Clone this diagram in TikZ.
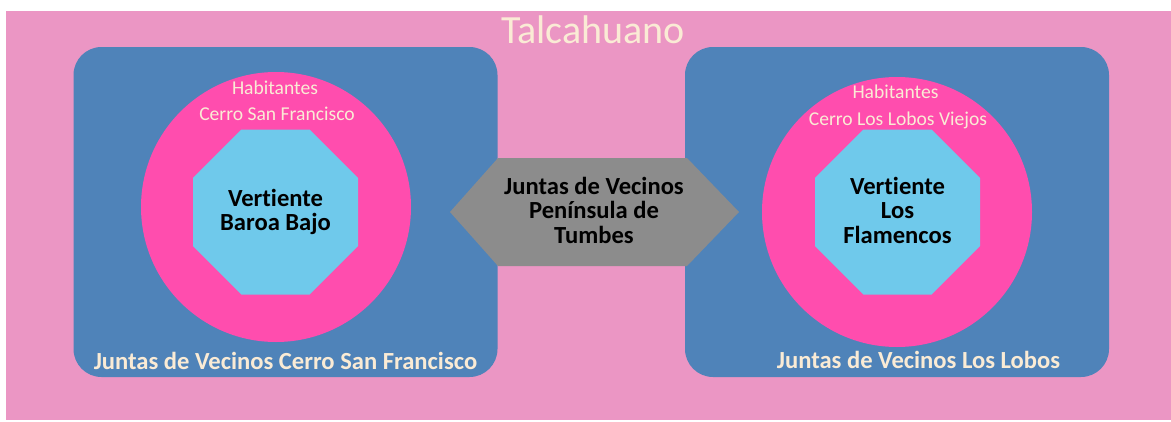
\documentclass[tikz,border=0pt]{standalone}
\usepackage{fontspec}
\setmainfont{Carlito}[Ligatures=NoCommon]
\usetikzlibrary{shapes.geometric}
\definecolor{bgpink}{HTML}{EB96C4}
\definecolor{boxblue}{HTML}{4F83B9}
\definecolor{hotpink}{HTML}{FF4DAE}
\definecolor{lightblue}{HTML}{6FC9EB}
\definecolor{hexgray}{HTML}{8C8C8C}
\definecolor{cream}{HTML}{FAEBD5}
\tikzset{
  groupbox/.style={rectangle, rounded corners=28pt, fill=boxblue, draw=none, inner sep=0pt, minimum width=424pt, minimum height=330pt},
  ring/.style={circle, fill=hotpink, draw=none, inner sep=0pt, minimum size=270pt},
  octo/.style={regular polygon, regular polygon sides=8, fill=lightblue, draw=none, inner sep=0pt, minimum size=178.6pt},
  titletext/.style={anchor=base, text=cream, font=\fontsize{40}{46}\selectfont},
  boxlabel/.style={anchor=base, text=cream, font=\bfseries\fontsize{24.6}{28}\selectfont},
  smalllabel/.style={anchor=base, text=cream, font=\fontsize{19.6}{22}\selectfont},
  inner/.style={align=center, text=black, font=\bfseries\fontsize{24.6}{24.5}\selectfont, inner sep=0pt},
}
\begin{document}
\begin{tikzpicture}[x=1pt,y=-1pt]
\useasboundingbox (0,0) rectangle (1171,421);
\fill[bgpink] (6,11) rectangle (1171,420);
\node[titletext] (title) at (593,43) {Talcahuano};
% left group
\node[groupbox] (lbox) at (285.5,212) {};
\node[ring] (lring) at (276,207) {};
\node[octo] (loct) at (275.5,212) {};
\node[smalllabel] (lhab) at (275,94) {Habitantes};
\node[smalllabel] (lcerro) at (277,120) {Cerro San Francisco};
\node[inner] (ltext) at (275.5,212) {Vertiente\\Baroa Bajo};
\node[boxlabel] (llabel) at (285.5,369) {Juntas de Vecinos Cerro San Francisco};
% right group
\node[groupbox] (rbox) at (897,212) {};
\node[ring] (rring) at (897,212) {};
\node[octo] (roct) at (897.5,212) {};
\node[smalllabel] (rhab) at (895.5,98) {Habitantes};
\node[smalllabel] (rcerro) at (898,125) {Cerro Los Lobos Viejos};
\node[inner] (rtext) at (897.5,210) {Vertiente\\Los\\Flamencos};
\node[boxlabel] (rlabel) at (918.5,368) {Juntas de Vecinos Los Lobos};
% center hexagon
\fill[hexgray] (450,212) -- (498,158) -- (687,158) -- (739,212) -- (687,266) -- (498,266) -- cycle;
\node[inner] (ctext) at (594,210) {Juntas de Vecinos\\Península de\\Tumbes};
\end{tikzpicture}
\end{document}
